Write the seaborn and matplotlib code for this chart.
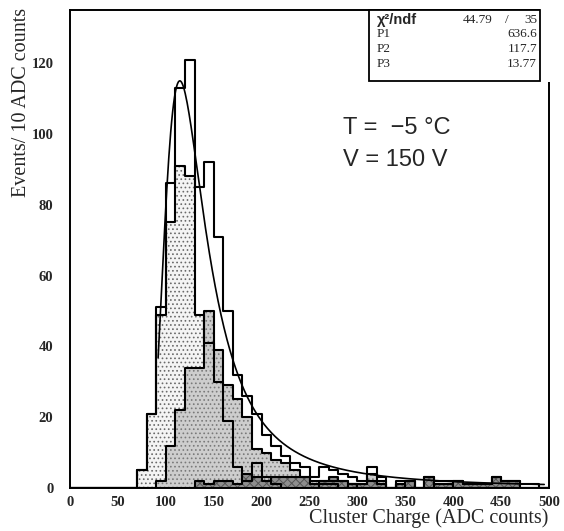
import numpy as np
import pandas as pd
import matplotlib
matplotlib.use("Agg")
import matplotlib.pyplot as plt
from matplotlib.patches import Rectangle
import seaborn as sns

# ---------------- data (counts per 10 ADC bin, 0..500) ----------------
bin_edges = list(range(0, 510, 10))
total_counts = [0, 0, 0, 0, 0, 0, 0,
                5, 21, 51, 86, 113, 121, 85, 92, 71, 50,
                32, 26, 21, 15, 12, 9, 7, 6, 3, 6,
                5, 4, 3, 2, 6, 3, 0, 2, 2, 0,
                3, 2, 2, 2, 1, 1, 1, 3, 2, 2,
                1, 1, 0]
single_counts = [0, 0, 0, 0, 0, 0, 0,
                 5, 21, 49, 75, 91, 88, 49, 41, 30, 19,
                 6, 2, 7, 3, 1, 0, 0, 0, 0, 1,
                 1, 0, 1, 0, 0, 0, 0, 0, 0, 0,
                 0, 0, 0, 0, 0, 0, 0, 0, 0, 0,
                 0, 0, 0]
double_counts = [0, 0, 0, 0, 0, 0, 0,
                 0, 0, 2, 12, 22, 34, 34, 50, 39, 29,
                 25, 20, 11, 10, 8, 7, 5, 3, 2, 2,
                 2, 2, 1, 1, 4, 2, 0, 1, 0, 0,
                 0, 1, 1, 0, 0, 0, 0, 0, 0, 0,
                 0, 0, 0]
multi_counts = [0, 0, 0, 0, 0, 0, 0,
                0, 0, 0, 0, 0, 0, 2, 1, 2, 2,
                1, 4, 3, 2, 3, 3, 3, 3, 1, 2,
                3, 2, 1, 1, 2, 1, 0, 1, 2, 0,
                3, 1, 1, 2, 1, 1, 1, 3, 2, 2,
                0, 0, 0]

# Landau fit parameters (from stats box)
chi2, ndf = 44.79, 35
P1, P2, P3 = 636.6, 117.7, 13.77
fit_range = (92, 495)

# ---------------- figure ----------------
W, H = 564, 531
fig = plt.figure(figsize=(W / 100, H / 100), dpi=100)
sns.set_style("white")
plt.rcParams["hatch.linewidth"] = 0.7
left, right, top, bottom = 70, 549, 10, 488
ax = fig.add_axes([left / W, 1 - bottom / H, (right - left) / W, (bottom - top) / H])

centers = [(a + b) / 2 for a, b in zip(bin_edges[:-1], bin_edges[1:])]


def hist(counts, **kw):
    df = pd.DataFrame({"charge": centers, "n": counts})
    sns.histplot(data=df, x="charge", weights="n", bins=bin_edges,
                 element="step", ax=ax, **kw)


def filled(counts, face, hatch_color, hatch):
    hist(counts, fill=True, facecolor=face, edgecolor=hatch_color,
         linewidth=0, hatch=hatch, alpha=1)
    hist(counts, fill=False, color="black", linewidth=1.5)


filled(single_counts, "#f4f4f4", "#6a6a6a", "....")
filled(double_counts, "#cdcdcd", "#7a7a7a", "....")
filled(multi_counts, "#8e8e8e", "#555555", "xxxx")
hist(total_counts, fill=False, color="black", linewidth=1.5)


# Landau fit curve (ROOT TMath::Landau convention)
def landau_phi(lam):
    t = np.concatenate([np.geomspace(1e-9, 0.5, 3000, endpoint=False),
                        np.linspace(0.5, 60, 12000)])
    out = []
    for l in np.atleast_1d(lam):
        f = np.exp(-t * np.log(t) - l * t) * np.sin(np.pi * t)
        out.append(np.trapezoid(f, t) / np.pi)
    return np.array(out)


xf = np.linspace(fit_range[0], fit_range[1], 400)
yf = P1 * landau_phi((xf - P2) / P3)
sns.lineplot(x=xf, y=yf, ax=ax, color="black", linewidth=1.2, sort=False)

ax.set_xlim(0, 500)
ax.set_ylim(0, 135)
ax.set_xticks(np.arange(0, 501, 50))
ax.set_xticks(np.arange(0, 501, 10), minor=True)
ax.set_yticks(np.arange(0, 121, 20))
ax.set_yticks(np.arange(0, 131, 5), minor=True)
ax.tick_params(axis="both", which="both", direction="in", top=False, right=False)
ax.tick_params(axis="both", which="major", length=8, width=1.1)
ax.tick_params(axis="both", which="minor", length=4, width=1.0)
ax.tick_params(axis="x", which="both", pad=6)
ax.tick_params(axis="y", which="both", pad=12)
for lab in ax.get_xticklabels() + ax.get_yticklabels():
    lab.set_fontfamily("Liberation Serif")
    lab.set_fontweight("bold")
    lab.set_fontsize(10.5)
for s in ax.spines.values():
    s.set_linewidth(1.4)
    s.set_color("black")

ax.set_xlabel("")
ax.set_ylabel("")
fig.text(548 / W, 1 - 518 / H, "Cluster Charge (ADC counts)", ha="right", va="center",
         fontfamily="Liberation Serif", fontsize=14.5)
fig.text(22 / W, 1 - 8 / H, "Events/ 10 ADC counts", ha="center", va="top",
         rotation=90, fontfamily="Liberation Serif", fontsize=14.5)

fig.text(343 / W, 1 - 128 / H, "T =  \u22125 \u00b0C",
         fontfamily="Liberation Sans", fontsize=17, va="center", ha="left")
fig.text(343 / W, 1 - 160 / H, "V = 150 V",
         fontfamily="Liberation Sans", fontsize=17, va="center", ha="left")

# stats box (covers the top-right corner of the frame, as in ROOT)
bx0, bx1, by0, by1 = 369, 540, 10, 81
fig.add_artist(Rectangle((bx1 / W, 1 - (by1 + 1) / H), 12 / W, (by1 - by0 + 4) / H,
                         transform=fig.transFigure, facecolor="white",
                         edgecolor="none", zorder=9))
fig.add_artist(Rectangle((bx0 / W, 1 - by1 / H), (bx1 - bx0) / W, (by1 - by0) / H,
                         transform=fig.transFigure, facecolor="white",
                         edgecolor="black", linewidth=1.3, zorder=10))
rows = [("P1", f"{P1:.1f}", 34), ("P2", f"{P2:.1f}", 49), ("P3", f"{P3:.2f}", 64)]
fig.text(377 / W, 1 - 20 / H, "\u03c7\u00b2/ndf", fontfamily="Liberation Sans",
         fontweight="bold", fontsize=10.5, va="center", ha="left", zorder=11)
fig.text(478 / W, 1 - 20 / H, f"{chi2:.2f}", fontfamily="Liberation Serif",
         fontsize=9.5, va="center", ha="center", zorder=11)
fig.text(507 / W, 1 - 20 / H, "/", fontfamily="Liberation Serif",
         fontsize=9.5, va="center", ha="center", zorder=11)
fig.text(537 / W, 1 - 20 / H, f"{ndf}", fontfamily="Liberation Serif",
         fontsize=9.5, va="center", ha="right", zorder=11)
for name, val, yy in rows:
    fig.text(377 / W, 1 - yy / H, name, fontfamily="Liberation Serif",
             fontsize=9.5, va="center", ha="left", zorder=11)
    fig.text(537 / W, 1 - yy / H, val, fontfamily="Liberation Serif",
             fontsize=9.5, va="center", ha="right", zorder=11)

fig.savefig("out.png", dpi=100)
